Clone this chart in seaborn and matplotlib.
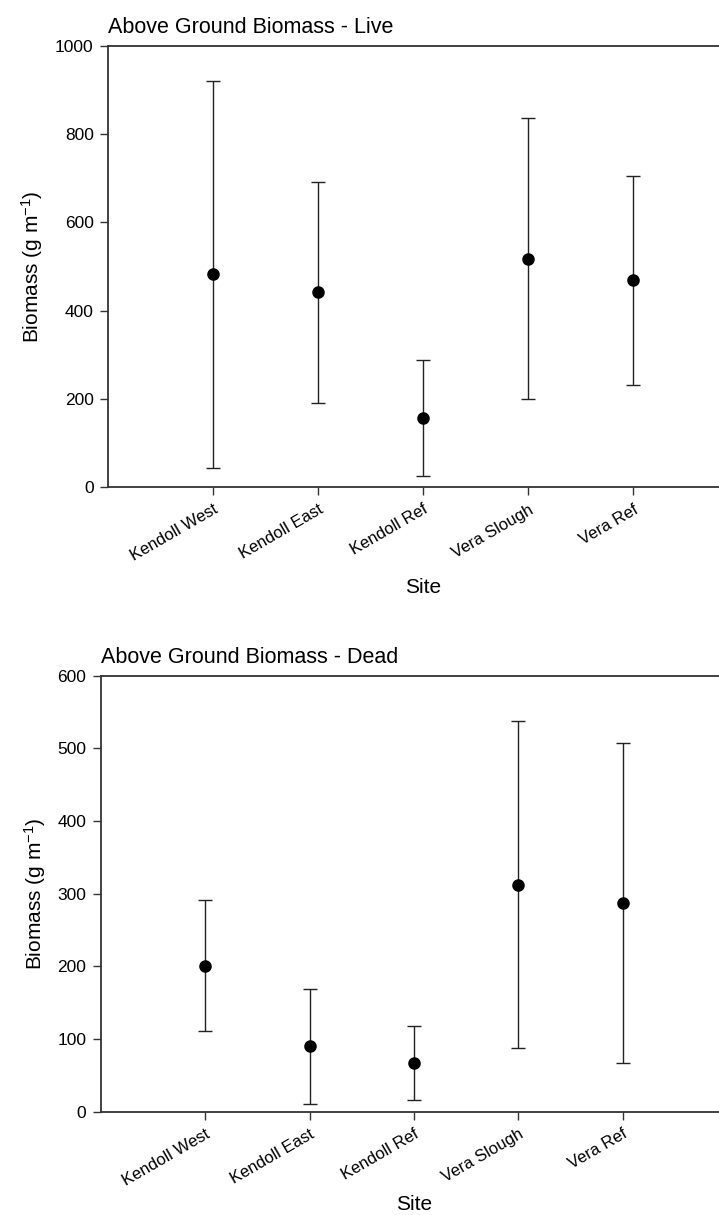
import matplotlib
matplotlib.use("Agg")
import matplotlib.pyplot as plt
import seaborn as sns
import pandas as pd

# Site order on the x axis
sites = ["Kendoll West", "Kendoll East", "Kendoll Ref", "Vera Slough", "Vera Ref"]

# Live biomass: mean and +/- error (g m-1)
live_mean = [482, 442, 157, 518, 469]
live_err = [438, 250, 131, 318, 237]

# Dead biomass: mean and +/- error (g m-1)
dead_mean = [201, 90, 67, 312, 287]
dead_err = [90, 79, 51, 225, 220]

live_ticks = [0, 200, 400, 600, 800, 1000]
dead_ticks = [0, 100, 200, 300, 400, 500, 600]

sns.set_style("ticks")
plt.rcParams["font.family"] = ["Liberation Sans", "DejaVu Sans"]
plt.rcParams["mathtext.fontset"] = "custom"
plt.rcParams["mathtext.rm"] = "Liberation Sans"
plt.rcParams["mathtext.it"] = "Liberation Sans:italic"
plt.rcParams["mathtext.default"] = "regular"
plt.rcParams["text.color"] = "black"
plt.rcParams["axes.labelcolor"] = "black"
plt.rcParams["xtick.labelcolor"] = "black"
plt.rcParams["ytick.labelcolor"] = "black"

fig = plt.figure(figsize=(7.19, 12.15), dpi=100)
ax1 = fig.add_axes([0.1506, 0.5989, 0.8758, 0.3635])
ax2 = fig.add_axes([0.1405, 0.0850, 0.8707, 0.3589])


def draw_panel(ax, means, errs, ticks, title, xpad):
    df = pd.DataFrame({"Site": sites, "Biomass": means})
    # error bars first so the points sit on top
    ax.errorbar(range(len(sites)), means, yerr=errs, fmt="none",
                ecolor="#222222", elinewidth=1.0, capsize=5, capthick=1.0,
                zorder=2)
    sns.pointplot(data=df, x="Site", y="Biomass", errorbar=None,
                  linestyle="none", marker="o", markersize=7,
                  color="black", ax=ax)
    for c in ax.collections:
        c.set_zorder(3)
    for l in ax.lines:
        l.set_zorder(3)

    ax.set_xlim(-1, 5)
    ax.set_ylim(ticks[0], ticks[-1])
    ax.set_yticks(ticks)
    ax.set_xticks(range(len(sites)))
    ax.set_xticklabels(sites, rotation=30, ha="right", rotation_mode="anchor",
                       fontsize=12)
    ax.tick_params(axis="y", labelsize=12.5)
    ax.tick_params(direction="out", length=5.5, width=1.0, color="#333333",
                   pad=5)
    for side in ["left", "bottom", "top"]:
        ax.spines[side].set_visible(True)
        ax.spines[side].set_linewidth(1.3)
        ax.spines[side].set_color("#333333")
    ax.spines["right"].set_visible(False)

    ax.set_xlabel("Site", fontsize=15, labelpad=xpad)
    ax.set_ylabel(r"Biomass (g m$^{-1}$)", fontsize=15, labelpad=7)
    ax.set_title(title, loc="left", fontsize=15.5, pad=9)


draw_panel(ax1, live_mean, live_err, live_ticks, "Above Ground Biomass - Live", 10)
draw_panel(ax2, dead_mean, dead_err, dead_ticks, "Above Ground Biomass - Dead", 5)

fig.savefig("out.png", dpi=100)
